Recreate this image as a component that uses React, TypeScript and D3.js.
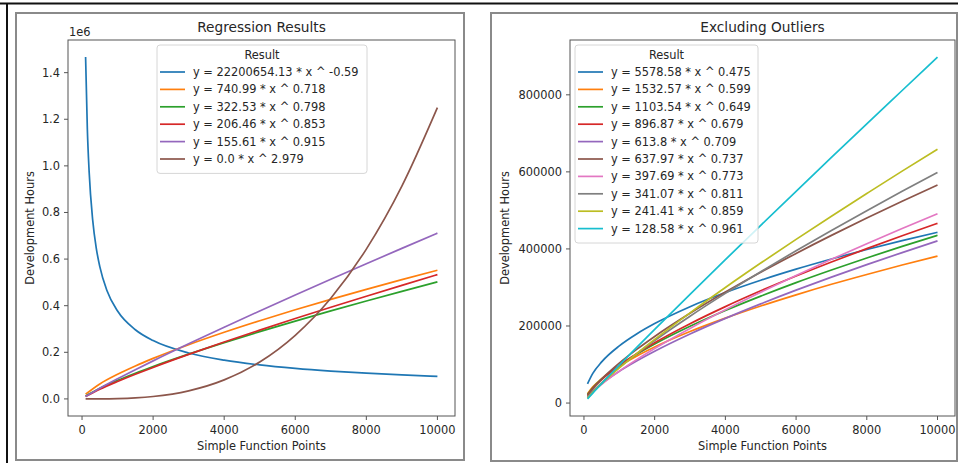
import React from 'react';
import * as d3 from 'd3';

// x positions sampled from the reference curves
const LEFT_X_DENSE = [100, 150, 200, 300, 400, 500, 700, 1000, 1500, 2000, 3000, 4000, 5000, 6000, 7000, 8000, 9000, 10000];
const LEFT_X = [100, 500, 1000, 1500, 2000, 3000, 4000, 5000, 6000, 7000, 8000, 9000, 10000];
const RIGHT_X = [100, 250, 500, 1000, 1500, 2000, 3000, 4000, 5000, 6000, 7000, 8000, 9000, 10000];

const LEFT_LABELS = [
  'y = 22200654.13 * x ^ -0.59',
  'y = 740.99 * x ^ 0.718',
  'y = 322.53 * x ^ 0.798',
  'y = 206.46 * x ^ 0.853',
  'y = 155.61 * x ^ 0.915',
  'y = 0.0 * x ^ 2.979',
];

const LEFT_VALUES = [
  [1466800, 1154800, 974400, 767300, 647400, 567500, 465400, 377000, 296800, 250400, 197200, 166400, 145800, 131000, 119600, 110500, 103100, 96900],
  [20220, 64230, 105600, 141400, 173800, 232500, 285800, 335500, 382400, 427200, 470100, 511700, 551900],
  [12720, 45960, 79900, 110400, 138900, 192000, 241600, 288700, 333800, 377600, 420100, 461400, 502000],
  [10490, 41410, 74790, 105700, 135100, 190900, 244000, 295200, 344900, 393300, 440800, 487300, 533200],
  [10520, 45880, 86490, 125400, 163200, 236400, 307500, 377300, 445800, 513300, 580000, 646000, 711300],
  [1, 166, 1312, 4390, 10340, 34610, 81540, 158500, 273000, 432000, 642900, 913100, 1250000],
];

const RIGHT_LABELS = [
  'y = 5578.58 * x ^ 0.475',
  'y = 1532.57 * x ^ 0.599',
  'y = 1103.54 * x ^ 0.649',
  'y = 896.87 * x ^ 0.679',
  'y = 613.8 * x ^ 0.709',
  'y = 637.97 * x ^ 0.737',
  'y = 397.69 * x ^ 0.773',
  'y = 341.07 * x ^ 0.811',
  'y = 241.41 * x ^ 0.859',
  'y = 128.58 * x ^ 0.961',
];

const RIGHT_VALUES = [
  [49720, 76850, 106800, 148400, 179900, 206300, 250100, 286800, 318800, 347600, 374000, 398600, 421500, 443100],
  [24180, 41860, 63410, 96040, 122400, 145500, 185500, 220300, 251800, 280800, 308200, 333700, 358200, 381500],
  [21920, 39720, 62300, 97680, 127100, 153200, 199300, 240200, 277500, 312600, 345400, 376600, 406600, 435400],
  [20450, 38090, 61010, 97660, 128600, 156400, 205900, 250300, 291300, 329600, 366000, 400800, 434100, 466400],
  [16070, 30770, 50300, 82260, 109600, 134400, 179200, 219700, 257400, 293000, 326800, 359300, 390500, 420800],
  [19000, 37330, 62230, 103700, 139800, 172900, 233000, 288100, 339600, 388400, 435200, 480100, 523700, 565800],
  [13980, 28390, 48520, 82920, 113400, 141700, 193800, 242100, 287600, 331200, 373000, 413500, 453200, 491500],
  [14290, 30030, 52690, 92450, 128400, 162200, 225400, 284600, 341000, 395400, 448100, 499300, 549400, 598400],
  [12610, 27710, 50250, 91170, 129100, 165300, 234200, 299900, 363300, 424900, 485000, 543800, 602000, 658900],
  [10740, 25920, 50450, 98210, 145000, 191200, 282300, 372200, 461200, 549600, 637500, 724500, 811200, 897900],
];

const X_TICKS = [0, 2000, 4000, 6000, 8000, 10000];
const LEFT_Y_TICKS = [0, 200000, 400000, 600000, 800000, 1000000, 1200000, 1400000];
const RIGHT_Y_TICKS = [0, 200000, 400000, 600000, 800000];

const COLORS = d3.schemeCategory10;
const FONT = 'DejaVu Sans, sans-serif';
const TXT = '#262626';

type Series = { label: string; xs: number[]; ys: number[] };

const leftSeries: Series[] = LEFT_LABELS.map((label, i) => ({
  label,
  xs: i === 0 ? LEFT_X_DENSE : LEFT_X,
  ys: LEFT_VALUES[i],
}));
const rightSeries: Series[] = RIGHT_LABELS.map((label, i) => ({ label, xs: RIGHT_X, ys: RIGHT_VALUES[i] }));

type PanelProps = {
  title: string;
  frame: { x: number; y: number; w: number; h: number };
  box: { x0: number; x1: number; y0: number; y1: number };
  series: Series[];
  yTicks: number[];
  yFormat: (v: number) => string;
  yDomain: [number, number];
  offsetText?: string;
  legend: { x: number; y: number; w: number };
  yLabelX: number;
};

const Panel = ({ title, frame, box, series, yTicks, yFormat, yDomain, offsetText, legend, yLabelX }: PanelProps) => {
  const x = d3.scaleLinear().domain([-395, 10495]).range([box.x0, box.x1]);
  const y = d3.scaleLinear().domain(yDomain).range([box.y1, box.y0]);
  const line = d3
    .line<[number, number]>()
    .x(d => x(d[0]))
    .y(d => y(d[1]))
    .curve(d3.curveMonotoneX);
  const rowH = 17.4;
  const legendH = 24 + series.length * rowH;
  const cx = (box.x0 + box.x1) / 2;
  const clipId = `clip-${box.x0}`;

  return (
    <g>
      <rect x={frame.x} y={frame.y} width={frame.w} height={frame.h} fill="white" stroke="#8a8a8a" strokeWidth={2} />
      <defs>
        <clipPath id={clipId}>
          <rect x={box.x0} y={box.y0} width={box.x1 - box.x0} height={box.y1 - box.y0} />
        </clipPath>
      </defs>
      <g clipPath={`url(#${clipId})`}>
        {series.map((s, i) => (
          <path
            key={s.label}
            d={line(s.xs.map((v, j) => [v, s.ys[j]] as [number, number])) || ''}
            fill="none"
            stroke={COLORS[i]}
            strokeWidth={1.7}
          />
        ))}
      </g>
      <rect x={box.x0} y={box.y0} width={box.x1 - box.x0} height={box.y1 - box.y0} fill="none" stroke="#555" strokeWidth={1} />

      {X_TICKS.map(t => (
        <g key={t}>
          <line x1={x(t)} x2={x(t)} y1={box.y1} y2={box.y1 + 4} stroke="#555" />
          <text x={x(t)} y={box.y1 + 17.5} textAnchor="middle" fontSize={11.4} fontFamily={FONT} fill={TXT}>
            {t}
          </text>
        </g>
      ))}
      {yTicks.map(t => (
        <g key={t}>
          <line x1={box.x0 - 4} x2={box.x0} y1={y(t)} y2={y(t)} stroke="#555" />
          <text x={box.x0 - 8} y={y(t) + 4} textAnchor="end" fontSize={11.4} fontFamily={FONT} fill={TXT}>
            {yFormat(t)}
          </text>
        </g>
      ))}
      {offsetText && (
        <text x={box.x0 + 1} y={36} fontSize={11.4} fontFamily={FONT} fill={TXT}>
          {offsetText}
        </text>
      )}
      <text x={cx} y={32} textAnchor="middle" fontSize={13.7} fontFamily={FONT} fill={TXT}>
        {title}
      </text>
      <text x={cx} y={450} textAnchor="middle" fontSize={11.4} fontFamily={FONT} fill={TXT}>
        Simple Function Points
      </text>
      <text
        transform={`translate(${yLabelX},${(box.y0 + box.y1) / 2}) rotate(-90)`}
        textAnchor="middle"
        fontSize={11.4}
        fontFamily={FONT}
        fill={TXT}
      >
        Development Hours
      </text>

      <rect
        x={legend.x}
        y={legend.y}
        width={legend.w}
        height={legendH}
        rx={3}
        fill="white"
        fillOpacity={0.8}
        stroke="#d6d6d6"
      />
      <text x={legend.x + legend.w / 2} y={legend.y + 14} textAnchor="middle" fontSize={11.4} fontFamily={FONT} fill={TXT}>
        Result
      </text>
      {series.map((s, i) => {
        const ry = legend.y + 27 + i * rowH;
        return (
          <g key={s.label}>
            <line x1={legend.x + 3} x2={legend.x + 28} y1={ry} y2={ry} stroke={COLORS[i]} strokeWidth={1.7} />
            <text x={legend.x + 36} y={ry + 4} fontSize={11.4} fontFamily={FONT} fill={TXT}>
              {s.label}
            </text>
          </g>
        );
      })}
    </g>
  );
};

export default function App() {
  return (
    <svg width={958} height={463} style={{ position: 'absolute', left: 0, top: 0, background: 'white' }}>
      <rect width={958} height={463} fill="white" />
      <line x1={0} x2={958} y1={3.5} y2={3.5} stroke="#111" strokeWidth={2} />
      <line x1={7} x2={7} y1={3} y2={463} stroke="#111" strokeWidth={2} />
      <Panel
        title="Regression Results"
        frame={{ x: 16, y: 13, w: 448, h: 447 }}
        box={{ x0: 68, x1: 455, y0: 40, y1: 416 }}
        series={leftSeries}
        yTicks={LEFT_Y_TICKS}
        yFormat={v => (v / 1e6).toFixed(1)}
        yDomain={[-73340, 1540140]}
        offsetText="1e6"
        legend={{ x: 157, y: 45, w: 210 }}
        yLabelX={34}
      />
      <Panel
        title="Excluding Outliers"
        frame={{ x: 491, y: 13, w: 466, h: 448 }}
        box={{ x0: 570, x1: 955, y0: 40, y1: 416 }}
        series={rightSeries}
        yTicks={RIGHT_Y_TICKS}
        yFormat={v => String(v)}
        yDomain={[-33600, 942260]}
        legend={{ x: 575, y: 45, w: 183 }}
        yLabelX={509}
      />
    </svg>
  );
}
